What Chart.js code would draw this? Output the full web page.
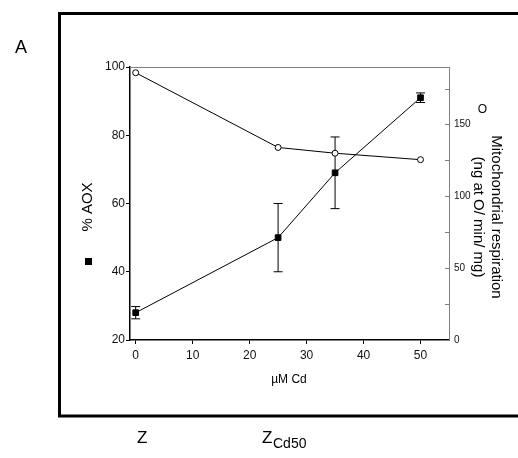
<!DOCTYPE html>
<html>
<head>
<meta charset="utf-8">
<script src="https://cdn.jsdelivr.net/npm/chart.js@4"></script>
<style>
  body { margin: 0; background: #fff; }
  canvas { display: block; }
</style>
</head>
<body>
<canvas id="chart" width="518" height="458"></canvas>
<script>
// Cd doses (µM) and the two measured series
const cdDoses = [0, 25, 35, 50];
const aoxPercent = [28, 50, 69, 91];
const aoxError = [1.8, 10, 10.5, 1.4];
const respiration = [186, 134, 130, 125.5];

const aoxTicks = [20, 40, 60, 80, 100];
const respLabelTicks = [0, 50, 100, 150];
const doseTicks = [0, 10, 20, 30, 40, 50];

const FONT = "Arial, 'Liberation Sans', sans-serif";

const extras = {
    id: 'extras',
    beforeDatasetsDraw(chart) {
        const ctx = chart.ctx;
        const x = chart.scales.x;
        const yl = chart.scales.yL;
        ctx.save();
        ctx.strokeStyle = '#000';
        ctx.lineWidth = 1;
        cdDoses.forEach((d, i) => {
            const px = x.getPixelForValue(d);
            const top = yl.getPixelForValue(aoxPercent[i] + aoxError[i]);
            const bot = yl.getPixelForValue(aoxPercent[i] - aoxError[i]);
            ctx.beginPath();
            ctx.moveTo(px, top); ctx.lineTo(px, bot);
            ctx.moveTo(px - 4.5, top); ctx.lineTo(px + 4.5, top);
            ctx.moveTo(px - 4.5, bot); ctx.lineTo(px + 4.5, bot);
            ctx.stroke();
        });
        ctx.restore();
    },
    afterDraw(chart) {
        const ctx = chart.ctx;
        const area = chart.chartArea;
        const yr = chart.scales.yR;
        ctx.save();

        // frame line on top of the plot
        ctx.strokeStyle = '#808080';
        ctx.lineWidth = 1;
        ctx.beginPath();
        ctx.moveTo(area.left, area.top + 0.5);
        ctx.lineTo(area.right, area.top + 0.5);
        ctx.stroke();

        // right axis ticks (inward)
        yr.ticks.forEach(t => {
            const py = Math.round(yr.getPixelForValue(t.value)) + 0.5;
            ctx.beginPath();
            ctx.moveTo(area.right - 4, py);
            ctx.lineTo(area.right + 1, py);
            ctx.stroke();
        });

        // outer box
        ctx.strokeStyle = '#000';
        ctx.lineWidth = 3;
        ctx.strokeRect(59.5, 13.5, 470, 402.5);

        ctx.fillStyle = '#000';
        ctx.textAlign = 'center';
        ctx.textBaseline = 'alphabetic';
        ctx.font = '18px ' + FONT;
        ctx.fillText('A', 21, 53);

        // left axis title + marker
        ctx.save();
        ctx.translate(88, 207);
        ctx.rotate(-Math.PI / 2);
        ctx.font = '15px ' + FONT;
        ctx.textBaseline = 'middle';
        ctx.fillText('% AOX', 0, 0);
        ctx.restore();
        ctx.fillRect(85, 258, 7, 7);

        // right axis title + marker
        ctx.font = '12px ' + FONT;
        ctx.textBaseline = 'middle';
        ctx.fillText('O', 482.5, 109.5);
        ctx.save();
        ctx.translate(496, 217);
        ctx.rotate(Math.PI / 2);
        ctx.font = '15px ' + FONT;
        ctx.fillText('Mitochondrial respiration', 0, 0);
        ctx.restore();
        ctx.save();
        ctx.translate(478, 217);
        ctx.rotate(Math.PI / 2);
        ctx.font = '15px ' + FONT;
        ctx.fillText('(ng at O/ min/ mg)', 0, 0);
        ctx.restore();

        // x title
        ctx.textBaseline = 'alphabetic';
        ctx.font = '12px ' + FONT;
        ctx.fillText('\u00b5M Cd', 289, 383);

        // labels under the box
        ctx.textAlign = 'left';
        ctx.font = '17px ' + FONT;
        ctx.fillText('Z', 137, 443);
        ctx.fillText('Z', 262, 443);
        ctx.font = '14px ' + FONT;
        ctx.fillText('Cd50', 273, 448);

        ctx.restore();
    }
};

new Chart(document.getElementById('chart').getContext('2d'), {
    type: 'line',
    data: {
        datasets: [{
            label: '% AOX',
            data: cdDoses.map((d, i) => ({ x: d, y: aoxPercent[i] })),
            yAxisID: 'yL',
            borderColor: '#000',
            borderWidth: 1,
            pointStyle: 'rect',
            pointRadius: 4,
            pointBackgroundColor: '#000',
            pointBorderColor: '#000',
            tension: 0
        }, {
            label: 'Mitochondrial respiration',
            data: cdDoses.map((d, i) => ({ x: d, y: respiration[i] })),
            yAxisID: 'yR',
            borderColor: '#000',
            borderWidth: 1,
            pointStyle: 'circle',
            pointRadius: 3,
            pointBackgroundColor: '#fff',
            pointBorderColor: '#000',
            pointBorderWidth: 1,
            tension: 0
        }]
    },
    options: {
        responsive: false,
        animation: false,
        events: [],
        layout: { padding: { top: 67, left: 0, right: 0, bottom: 0 } },
        plugins: { legend: { display: false }, tooltip: { enabled: false } },
        scales: {
            x: {
                type: 'linear',
                position: 'bottom',
                min: -1,
                max: 55,
                afterFit: s => { s.height = 118; },
                afterBuildTicks: s => { s.ticks = doseTicks.map(v => ({ value: v })); },
                border: { color: '#000', width: 1.5 },
                grid: { drawOnChartArea: false, tickLength: 4, color: '#000' },
                ticks: { color: '#111', padding: 4, font: { family: FONT, size: 12 } }
            },
            yL: {
                type: 'linear',
                position: 'left',
                min: 20,
                max: 100,
                afterFit: s => { s.width = 130; },
                afterBuildTicks: s => { s.ticks = aoxTicks.map(v => ({ value: v })); },
                border: { color: '#000', width: 1.5 },
                grid: { drawOnChartArea: false, tickLength: 4, color: '#000' },
                ticks: { color: '#111', padding: 1, font: { family: FONT, size: 12 } }
            },
            yR: {
                type: 'linear',
                position: 'right',
                min: 0,
                max: 190,
                afterFit: s => { s.width = 69; },
                ticks: {
                    stepSize: 25,
                    includeBounds: false,
                    color: '#111',
                    padding: 5,
                    font: { family: FONT, size: 10 },
                    callback: v => respLabelTicks.includes(v) ? String(v) : ''
                },
                border: { color: '#808080', width: 1 },
                grid: { drawOnChartArea: false, drawTicks: false }
            }
        }
    },
    plugins: [extras]
});
</script>
</body>
</html>
